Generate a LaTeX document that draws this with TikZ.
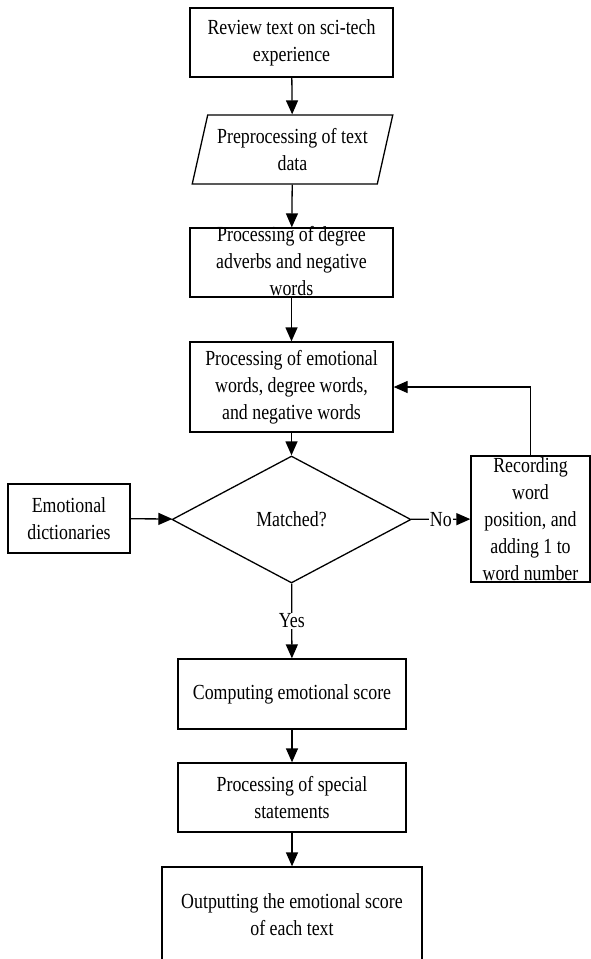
\documentclass[tikz,border=0pt]{standalone}
\usepackage{fontspec}
\setmainfont{Liberation Serif}[FakeStretch=0.83]
\usetikzlibrary{shapes.geometric,arrows.meta}

\tikzset{every picture/.style={line width=1.3pt}}
\tikzset{
  flowbox/.style={draw, rectangle, align=center, inner sep=0pt, font=\fontsize{21.5}{27}\selectfont},
  databox/.style={draw, trapezium, trapezium left angle=72, trapezium right angle=108, trapezium stretches=true,
    align=center, inner sep=0pt, font=\fontsize{21.5}{27}\selectfont},
  decision/.style={draw, diamond, align=center, inner sep=0pt, font=\fontsize{21.5}{27}\selectfont},
  flowline/.style={-{Triangle[length=14pt,width=12pt]}},
  edgetext/.style={fill=white, inner sep=1pt, font=\fontsize{21.5}{27}\selectfont}
}

\begin{document}
\begin{tikzpicture}[x=1pt,y=1pt,yscale=-1,xscale=1]
        \useasboundingbox (0,0) rectangle (590,959);
        % main column
        \node [flowbox, minimum width=203, minimum height=69] (review) at (291.5,42.5) {Review text on sci-tech\\experience};
        \node [databox, minimum width=201, minimum height=69] (prep) at (292.5,149.5) {Preprocessing of text\\data};
        \node [flowbox, minimum width=203, text height=67pt, text depth=2pt] (degree) at (291.5,262.5) {Processing of degree\\adverbs and negative\\words};
        \node [flowbox, minimum width=203, minimum height=90] (emowords) at (291.5,387) {Processing of emotional\\words, degree words,\\and negative words};
        \node [decision, minimum width=239, minimum height=127] (matched) at (291.5,519.5) {Matched?};
        \node [flowbox, minimum width=228, minimum height=70] (score) at (292,694) {Computing emotional score};
        \node [flowbox, minimum width=228, minimum height=69] (special) at (292,797.5) {Processing of special\\statements};
        \node [flowbox, minimum width=260, minimum height=96] (output) at (292,915) {Outputting the emotional score\\of each text};
        % side boxes
        \node [flowbox, minimum width=122, minimum height=69] (dict) at (69,518.5) {Emotional\\dictionaries};
        \node [flowbox, minimum width=119, minimum height=126] (record) at (530.5,519) {Recording\\word\\position, and\\adding 1 to\\word number};
        % connectors
        \draw [flowline] (review) -- (prep);
        \draw [flowline] (prep) -- (degree);
        \draw [flowline] (degree) -- (emowords);
        \draw [flowline] (emowords) -- (matched);
        \draw [flowline] (dict) -- (matched);
        \draw [flowline] (matched) -- node [edgetext] {No} (record);
        \draw [flowline] (record.north) |- (emowords.east);
        \draw [flowline] (matched) -- node [edgetext] {Yes} (score);
        \draw [flowline] (score) -- (special);
        \draw [flowline] (special) -- (output);
\end{tikzpicture}
\end{document}
